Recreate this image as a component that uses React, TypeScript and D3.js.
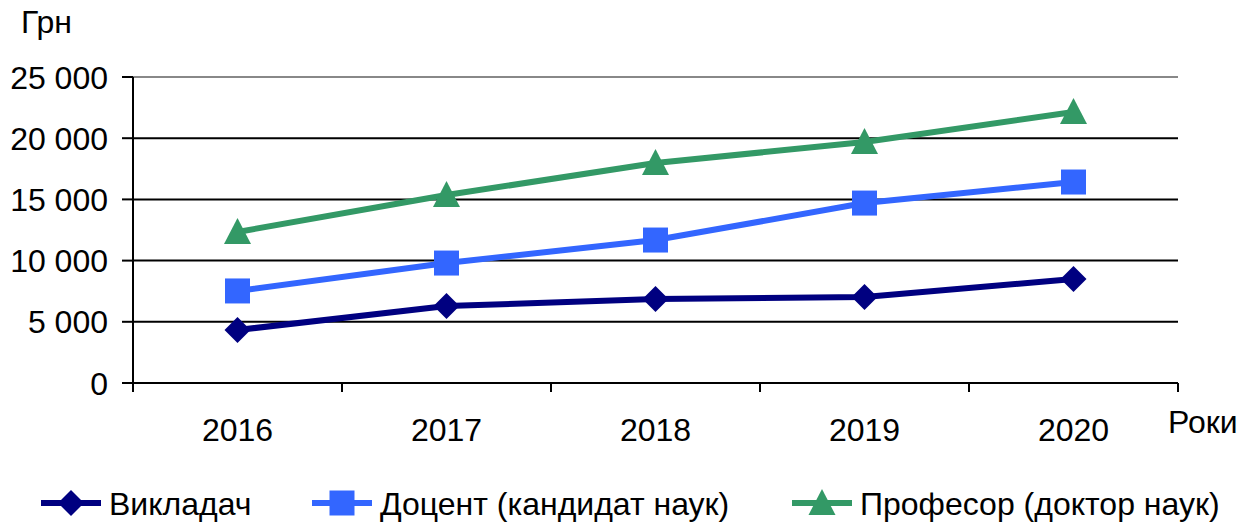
import React, { useEffect, useRef } from "react";
import * as d3 from "d3";

const years = ["2016", "2017", "2018", "2019", "2020"];
const lecturer = [4330, 6290, 6860, 7030, 8500];
const docent = [7520, 9800, 11680, 14700, 16420];
const professor = [12340, 15360, 17970, 19690, 22140];
const yTicks = [0, 5000, 10000, 15000, 20000, 25000];

const seriesNames = ["Викладач", "Доцент (кандидат наук)", "Професор (доктор наук)"];
const seriesColors = ["#000080", "#3366ff", "#339966"];

// marker outlines, centred on the point
const markerPaths = [
  "M0,-13L13,0L0,13L-13,0Z",
  "M-12.5,-12.5H12.5V12.5H-12.5Z",
  "M0,-14L13.5,12L-13.5,12Z",
];

const fmt = (v: number) => d3.format(",")(v).replace(",", " ");

export default function App() {
  const ref = useRef<SVGSVGElement>(null);

  useEffect(() => {
    const svg = d3.select(ref.current);
    svg.selectAll("*").remove();

    const left = 133, right = 1178, top = 77, bottom = 383;
    const font = "'Liberation Sans', Arial, sans-serif";
    const fs = "32px";

    const x = d3.scaleBand().domain(years).range([left, right]);
    const y = d3.scaleLinear().domain([0, 25000]).range([bottom, top]);
    const cx = (d: string) => (x(d) as number) + x.bandwidth() / 2;

    // gridlines
    svg.append("g")
      .selectAll("line")
      .data(yTicks)
      .join("line")
        .attr("x1", left)
        .attr("x2", right)
        .attr("y1", d => y(d))
        .attr("y2", d => y(d))
        .attr("stroke", d => (d === 25000 ? "#888" : "#000"))
        .attr("stroke-width", 2);

    // y axis
    const ya = svg.append("g");
    ya.append("line")
      .attr("x1", left).attr("x2", left)
      .attr("y1", top).attr("y2", bottom + 9)
      .attr("stroke", "#000").attr("stroke-width", 2);
    ya.selectAll("line.tick")
      .data(yTicks)
      .join("line")
        .attr("class", "tick")
        .attr("x1", left - 11).attr("x2", left)
        .attr("y1", d => y(d)).attr("y2", d => y(d))
        .attr("stroke", "#000").attr("stroke-width", 2);
    ya.selectAll("text")
      .data(yTicks)
      .join("text")
        .attr("x", 108)
        .attr("y", d => y(d))
        .attr("dy", "0.36em")
        .attr("text-anchor", "end")
        .style("font-family", font)
        .style("font-size", fs)
        .text(d => fmt(d));

    // x axis ticks at band edges
    const edges = years.map(d => x(d) as number).concat([right]);
    svg.append("g")
      .selectAll("line")
      .data(edges.slice(1))
      .join("line")
        .attr("x1", d => d).attr("x2", d => d)
        .attr("y1", bottom).attr("y2", bottom + 9)
        .attr("stroke", "#000").attr("stroke-width", 2);

    svg.append("g")
      .selectAll("text")
      .data(years)
      .join("text")
        .attr("x", d => cx(d))
        .attr("y", 441)
        .attr("text-anchor", "middle")
        .style("font-family", font)
        .style("font-size", fs)
        .text(d => d);

    svg.append("text")
      .attr("x", 21).attr("y", 33)
      .style("font-family", font).style("font-size", fs)
      .text("Грн");
    svg.append("text")
      .attr("x", 1168).attr("y", 433)
      .style("font-family", font).style("font-size", fs)
      .text("Роки");

    const allSeries = [lecturer, docent, professor];
    const line = d3.line<number>()
      .x((d, i) => cx(years[i]))
      .y(d => y(d));

    allSeries.forEach((vals, s) => {
      const g = svg.append("g");
      g.append("path")
        .attr("d", line(vals))
        .attr("fill", "none")
        .attr("stroke", seriesColors[s])
        .attr("stroke-width", 6)
        .attr("stroke-linejoin", "round");
      g.selectAll("path.m")
        .data(vals)
        .join("path")
          .attr("class", "m")
          .attr("d", markerPaths[s])
          .attr("transform", (d, i) => `translate(${cx(years[i])},${y(d)})`)
          .attr("fill", seriesColors[s]);
    });

    // legend
    const legendX = [41, 312, 792];
    seriesNames.forEach((name, s) => {
      const g = svg.append("g").attr("transform", `translate(${legendX[s]},503)`);
      g.append("line")
        .attr("x1", 0).attr("x2", 60)
        .attr("stroke", seriesColors[s]).attr("stroke-width", 6);
      g.append("path")
        .attr("d", markerPaths[s])
        .attr("transform", "translate(30,0)")
        .attr("fill", seriesColors[s]);
      g.append("text")
        .attr("x", 68).attr("y", 12)
        .style("font-family", font).style("font-size", fs)
        .text(name);
    });
  }, []);

  return (
    <svg
      ref={ref}
      width={1250}
      height={524}
      style={{ position: "absolute", left: 0, top: 0, background: "#fff" }}
    />
  );
}
